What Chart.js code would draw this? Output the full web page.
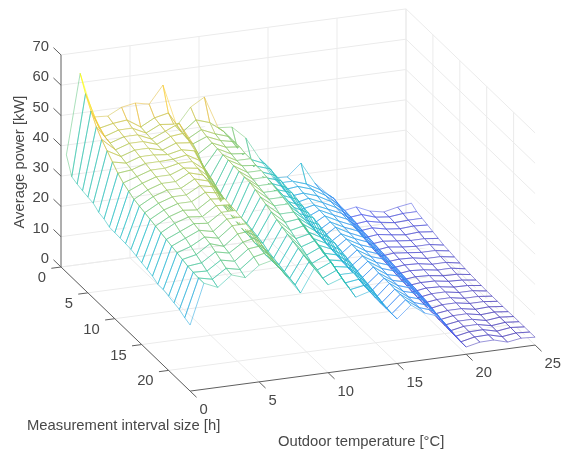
<!DOCTYPE html>
<html lang="en">
<head>
    <meta charset="UTF-8">
    <title>Average power mesh</title>
    <script src="https://cdn.jsdelivr.net/npm/chart.js"></script>
    <style>
        body { margin: 0; background: #fff; }
    </style>
</head>
<body>
    <canvas id="meshChart" width="563" height="450"></canvas>

    <script>
        const temperatures = [0,1,2,3,4,5,6,7,8,9,10,11,12,13,14,15,16,17,18,19,20,21,22,23,24,25];
        const intervals = [1,2,3,4,5,6,7,8,9,10,11,12,13,14,15,16,17,18,19,20,21,22,23,24];
        const tempTicks = [0,5,10,15,20,25];
        const intervalTicks = [0,5,10,15,20];
        const powerTicks = [0,10,20,30,40,50,60,70];

        // average power [kW], one row per temperature, one value per interval size
        const power = [
            [38.7,33.2,32.5,32,31.6,31.3,30,29.5,28.5,28.4,28.3,28.2,28,27.5,27,26.5,26,25,25,24.5,24,23.5,22.5,21.8],
            [65,60,56,52.5,50,48,46,44,42.5,41.5,40.5,40,39.5,39,38.5,38,37.5,37,36.5,36,35.5,35.2,35,35],
            [50,48,47,46.5,46,45.5,45,44.5,44,43.5,43,42.5,42,41.5,41,40.5,39.5,39,38,37,36,35,34,33],
            [49.7,49,48.5,48,47.5,47,46.5,46,45.5,45,44.5,44,43.5,43,42.5,42,41.5,41,40.5,40,39,38,37,36.5],
            [52,49.5,48.5,48,47.5,47,46.5,46,45.5,45,44.5,44,43.5,43,42,41.5,41,40,39.5,38.5,38,37,36,35],
            [52.8,46.6,46.3,46,46,45.8,46,46.2,46.5,46.7,46.8,46.5,46,45.5,45,44.5,44,43.5,43,42,41,40.5,39.5,38.5],
            [51.8,49,48.5,48,48,47.5,47,47,46.5,46,45.5,45.2,45,44.7,44.5,44.2,44,43.5,43,42.5,42,41,40.5,39.6],
            [57.5,50,48,50,48.5,47,46,44.4,43,42,40.5,37,36.5,36,35.5,35,35,34.5,34.5,34,34,34,34,33.5],
            [43.4,43,42.5,42.6,41,38,36,35,34.5,34,33.5,33.5,33.5,33.5,33,32.5,32,31,30.5,30,29.5,29,28.5,27.5],
            [49,46.5,45,44.4,44,43.8,43.5,43.5,43.3,43.2,43,43,42.3,41.5,40.8,40,39.2,38.5,37.8,37.2,36.6,36,35.5,35],
            [51.7,45,43,42.5,42,41.5,41,41,40.5,40,39.5,39,38.5,38,37,36,35,34,33,32,31,30.5,29.5,29],
            [41,41.5,41.5,41.5,41.5,41,41,40.5,40.5,40,39.5,39,38.5,38,37,36.5,36,35,34.5,34,33,32.5,31.5,30.6],
            [40.6,35.4,35,34.8,34.5,34.2,34,33.5,33.2,33,32.5,32,31.5,31,30,29.5,29,28,27.5,27,26,25,24.5,23.7],
            [36.4,31,30.5,30.3,30,29.8,29.5,29.3,29,28.8,28.5,28.2,28,27.8,27.5,27.2,27,26.8,26.5,26.2,26,25.6,25.3,25],
            [29,29,29,28.5,28.5,28,28,27.5,27,26.5,26.5,26,25.5,25,25,24.5,24,23.5,23,22.5,22,21.5,20.8,19.9],
            [22,22,21.5,21,20.5,20,19,18.3,17.8,17.5,17,16.8,16.5,16.2,16,15.8,15.5,15.2,15,14.8,14.7,14.7,14.7,14.7],
            [21.7,22,22,21.5,21.5,21,21,20.8,20.5,20.5,20,20,20,19.8,19.5,19.5,19.3,19,19,19,18.8,18.8,18.7,18.7],
            [25.7,20.5,20.5,20,19.5,19,18.8,18.5,18.2,18,17.8,17.5,17.2,17,16.8,16.5,16.2,16,16,15.8,15.6,15.5,15.5,15.4],
            [18.5,18,17.8,17.5,17.2,17,16.8,16.5,16.3,16,16,15.8,15.5,15.5,15.2,15,15,14.8,14.5,14.5,14.2,14,14,13.8],
            [14,14.5,14,14,13.8,13.5,13,12.8,12.5,12.2,12,11.8,11.5,11.3,11,10.8,10.6,10.3,10,9.5,9,8.6,8.3,8],
            [8,7.5,7,6.5,6,5.5,5.2,5,4.8,4.5,4.2,4,3.8,3.5,3.3,3.2,3,3,2.8,2.8,2.6,2.5,2.4,2.4],
            [8.8,8,7.5,7,6.5,6,5.8,5.5,5.2,5,4.8,4.5,4.3,4.2,4,3.8,3.8,3.6,3.6,3.5,3.5,3.4,3.4,3.4],
            [6.8,6.5,6.5,6,5.8,5.5,5.2,5,5,4.8,4.5,4.3,4.2,4,4,3.8,3.8,3.6,3.6,3.5,3.5,3.5,3.5,3.5],
            [5.9,6,5.8,5.5,5.2,5,4.8,4.5,4.2,4,3.8,3.6,3.5,3.3,3.2,3,3,2.8,2.7,2.5,2.5,2.4,2.3,2.2],
            [6.9,6.5,6,5.8,5.5,5,4.8,4.5,4.2,4,3.8,3.5,3.3,3.2,3.2,3,3,3,3,3,3,3,2.9,2.9],
            [7.6,6.5,6,5.5,5,4.5,4,3.8,3.5,3.2,3,2.8,2.7,2.6,2.5,2.5,2.5,2.5,2.5,2.6,2.6,2.6,2.6,2.6]
        ];

        // parula-like colours
        const parula = [
            [72,58,178],[78,92,236],[50,135,245],[40,165,228],[30,186,200],
            [55,196,170],[112,200,124],[180,200,84],[232,190,64],[250,208,50],[249,251,20]
        ];
        const powerMin = 2;
        const powerMax = 65;

        function meshColor(value) {
            const f = Math.min(1, Math.max(0, (value - powerMin) / (powerMax - powerMin))) * (parula.length - 1);
            const i = Math.min(parula.length - 2, Math.floor(f));
            const t = f - i;
            const rgb = [0, 1, 2].map(k => Math.round(parula[i][k] + (parula[i + 1][k] - parula[i][k]) * t));
            return `rgba(${rgb.join(',')},0.7)`;
        }

        // orthographic view: axis values to the hidden pixel scales
        function project(temp, interval, value) {
            return {
                x: 61 + 5.38 * interval + 13.8 * temp,
                y: 267 + 5.17 * interval - 1.84 * temp - 3.03 * value
            };
        }

        const datasets = [];

        // mesh cells, nearest first because the first dataset ends up on top
        for (let t = 0; t < temperatures.length - 1; t++) {
            for (let i = intervals.length - 2; i >= 0; i--) {
                const corners = [[t, i], [t + 1, i], [t + 1, i + 1], [t, i + 1], [t, i]];
                const colors = [power[t][i], power[t + 1][i], power[t][i + 1], power[t][i]];
                datasets.push({
                    data: corners.map(c => project(temperatures[c[0]], intervals[c[1]], power[c[0]][c[1]])),
                    showLine: true,
                    fill: 'shape',
                    backgroundColor: '#ffffff',
                    borderWidth: 0.8,
                    pointRadius: 0,
                    segment: {
                        borderColor: ctx => meshColor(colors[ctx.p0DataIndex])
                    }
                });
            }
        }

        function addLine(from, to, color, width) {
            datasets.push({
                data: [project(...from), project(...to)],
                showLine: true,
                borderColor: color,
                borderWidth: width,
                pointRadius: 0
            });
        }

        const axisColor = '#5f5f5f';
        const gridColor = '#ebebeb';
        const tempEnd = 25;
        const intervalEnd = 24;
        const powerEnd = 70;

        // axes and ticks
        addLine([0, 0, 0], [0, 0, powerEnd], axisColor, 1);
        addLine([0, 0, 0], [0, intervalEnd, 0], axisColor, 1);
        addLine([0, intervalEnd, 0], [tempEnd, intervalEnd, 0], axisColor, 1);
        powerTicks.forEach(p => addLine([0, 0, p], [0, -1.4, p], axisColor, 1));
        intervalTicks.forEach(n => addLine([0, n, 0], [-0.7, n, 0], axisColor, 1));
        tempTicks.forEach(n => addLine([n, intervalEnd, 0], [n, intervalEnd + 1.2, 0], axisColor, 1));

        // grid on floor and the two back walls
        powerTicks.forEach(p => {
            addLine([0, 0, p], [tempEnd, 0, p], gridColor, 1);
            addLine([tempEnd, 0, p], [tempEnd, intervalEnd, p], gridColor, 1);
        });
        tempTicks.forEach(n => {
            if (n > 0) {
                addLine([n, 0, 0], [n, 0, powerEnd], gridColor, 1);
            }
            addLine([n, 0, 0], [n, intervalEnd, 0], gridColor, 1);
        });
        intervalTicks.forEach(n => {
            addLine([0, n, 0], [tempEnd, n, 0], gridColor, 1);
            addLine([tempEnd, n, 0], [tempEnd, n, powerEnd], gridColor, 1);
        });

        const axisText = {
            id: 'axisText',
            afterDraw(chart) {
                const ctx = chart.ctx;
                ctx.save();
                ctx.fillStyle = '#484848';
                ctx.font = '14.8px "Liberation Sans"';
                ctx.textBaseline = 'middle';

                ctx.textAlign = 'right';
                powerTicks.forEach(p => {
                    const at = project(0, 0, p);
                    ctx.fillText(String(p), at.x - 12, at.y - 8);
                });
                intervalTicks.forEach(n => {
                    const at = project(0, n, 0);
                    ctx.fillText(String(n), at.x - 15, at.y + 11);
                });

                ctx.textAlign = 'left';
                tempTicks.forEach(n => {
                    const at = project(n, intervalEnd, 0);
                    ctx.fillText(String(n), at.x + 9.5, at.y + 19);
                });
                ctx.fillText('Measurement interval size [h]', 27, 426);
                ctx.fillText('Outdoor temperature [°C]', 278, 442);

                ctx.translate(20, 162);
                ctx.rotate(-Math.PI / 2);
                ctx.textAlign = 'center';
                ctx.fillText('Average power [kW]', 0, 0);
                ctx.restore();
            }
        };

        new Chart(document.getElementById('meshChart').getContext('2d'), {
            type: 'scatter',
            data: { datasets: datasets },
            plugins: [axisText],
            options: {
                responsive: false,
                animation: false,
                layout: { padding: 0 },
                plugins: {
                    legend: { display: false },
                    tooltip: { enabled: false }
                },
                scales: {
                    x: { type: 'linear', min: 0, max: 563, display: false },
                    y: { type: 'linear', min: 0, max: 450, reverse: true, display: false }
                }
            }
        });
    </script>
</body>
</html>
